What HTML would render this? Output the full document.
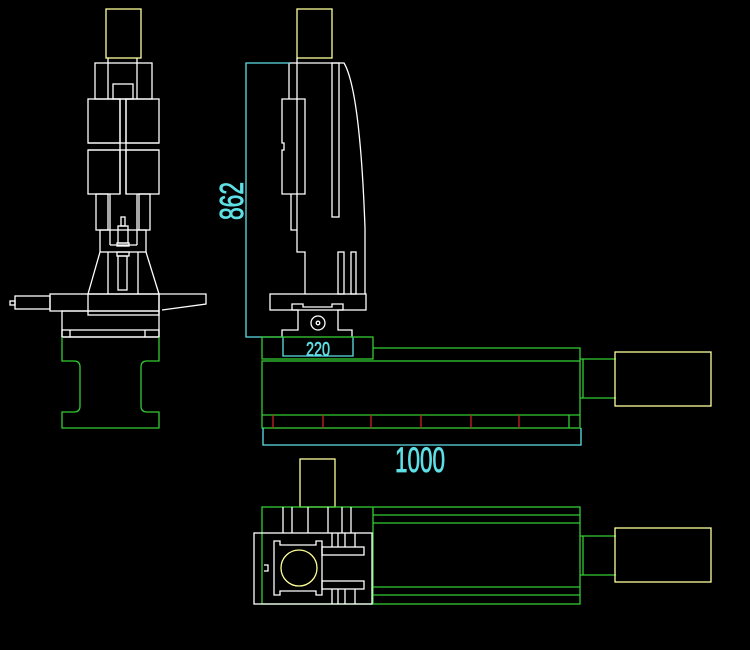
<!DOCTYPE html>
<html><head><style>html,body{margin:0;padding:0;background:#000;}svg{display:block}</style></head>
<body>
<svg width="750" height="650" viewBox="0 0 750 650" xmlns="http://www.w3.org/2000/svg" fill="none" stroke-width="1.3">
<rect width="750" height="650" fill="#000"/>
<!-- LEFT VIEW -->
<g stroke="#fff">
<rect x="95" y="63" width="57" height="36"/>
<line x1="108" y1="58" x2="108" y2="99"/><line x1="137" y1="58" x2="137" y2="99"/>
<rect x="113" y="84" width="20" height="15"/>
<rect x="88" y="99" width="32" height="44"/><rect x="126" y="99" width="33" height="44"/>
<rect x="88" y="150" width="32" height="44"/><rect x="126" y="150" width="33" height="44"/>
<line x1="88" y1="143" x2="159" y2="143"/><line x1="88" y1="150" x2="159" y2="150"/>
<line x1="120" y1="99" x2="120" y2="194"/><line x1="126" y1="99" x2="126" y2="194"/>
<rect x="96" y="194" width="12" height="36"/><rect x="139" y="194" width="11" height="36"/>
<line x1="110" y1="194" x2="110" y2="245"/><line x1="137" y1="194" x2="137" y2="245"/><line x1="110" y1="245" x2="137" y2="245"/>
<rect x="100" y="230" width="46" height="22"/>
<rect x="121" y="217" width="4" height="9"/><rect x="118" y="226" width="10" height="17"/><rect x="117" y="243" width="12" height="3"/>
<rect x="117" y="252" width="12" height="4"/><rect x="118" y="256" width="9" height="34"/>
<line x1="108" y1="252" x2="108" y2="294"/><line x1="138" y1="252" x2="138" y2="294"/>
<line x1="100" y1="252" x2="88" y2="294"/><line x1="146" y1="252" x2="159" y2="294"/>
<rect x="50" y="294" width="109" height="17"/>
<rect x="15" y="296" width="35" height="13"/><rect x="10" y="301" width="5" height="4"/>
<polyline points="159,294 206,294 206,304 162,310"/>
<rect x="88" y="294" width="71" height="21"/>
<rect x="62" y="311" width="97" height="26"/>
<rect x="62" y="330" width="97" height="7"/>
<line x1="70" y1="330" x2="70" y2="337"/><line x1="145" y1="330" x2="145" y2="337"/>
</g>
<rect x="106" y="9" width="35" height="49" stroke="#ffff99"/>
<path d="M62,337 V361 H74 Q80,361 80,367 V406 Q80,412 74,412 H62 V428 H159 V412 H147 Q141,412 141,406 V367 Q141,361 147,361 H159 V337" stroke="#33cc33"/>
<!-- SIDE VIEW -->
<rect x="297" y="9" width="35" height="49" stroke="#ffff99"/>
<g stroke="#fff">
<path d="M289,63 H344 Q360,90 365,228 V294"/>
<line x1="289" y1="63" x2="289" y2="99"/>
<path d="M282,99 H305 V194 H282 V150 H284 V143 H282 Z"/>
<polyline points="291,194 291,230 297,230"/>
<polyline points="297,58 297,252 305,252 305,294"/>
<rect x="332" y="63" width="7" height="154"/>
<rect x="338" y="252" width="6" height="42"/><rect x="351" y="252" width="5" height="42"/>
<rect x="270" y="294" width="96" height="16"/>
<path d="M282,337 V330 H298 V310 H292 V304 H303 V307 H332 V304 H343 V310 H338 V330 H352 V337"/>
<circle cx="318" cy="323" r="7"/><circle cx="318" cy="323" r="1.8"/>
</g>
<g stroke="#5ee0e6">
<polyline points="290,63 246,63 246,337 283,337"/>
<polyline points="283,337 283,356 353,356 353,337"/>
</g>
<text x="318" y="356" fill="#5ee0e6" stroke="#5ee0e6" stroke-width="0.6" font-family="Liberation Sans Narrow, Liberation Sans, sans-serif" font-size="20" text-anchor="middle" textLength="24" lengthAdjust="spacingAndGlyphs">220</text>
<text transform="translate(243,201) rotate(-90)" fill="#5ee0e6" stroke="#5ee0e6" stroke-width="0.8" font-family="Liberation Sans Narrow, Liberation Sans, sans-serif" font-size="33" text-anchor="middle" textLength="38" lengthAdjust="spacingAndGlyphs">862</text>
<!-- RAIL -->
<g stroke="#33cc33">
<rect x="262" y="337" width="111" height="22"/>
<polyline points="373,348 580,348 580,361"/>
<rect x="262" y="361" width="318" height="67"/>
<line x1="262" y1="415" x2="580" y2="415"/>
<line x1="569" y1="415" x2="569" y2="428"/>
<line x1="583" y1="359" x2="583" y2="398"/>
<polyline points="580,359 616,359"/><polyline points="580,398 616,398"/>
</g>
<g stroke="#cc2222">
<line x1="273" y1="415" x2="273" y2="428"/><line x1="323" y1="415" x2="323" y2="428"/>
<line x1="371" y1="415" x2="371" y2="428"/><line x1="421" y1="415" x2="421" y2="428"/>
<line x1="471" y1="415" x2="471" y2="428"/><line x1="519" y1="415" x2="519" y2="428"/>
</g>
<rect x="615" y="352" width="96" height="54" stroke="#ffff99"/>
<g stroke="#5ee0e6">
<polyline points="263,428 263,445 581,445 581,428"/>
</g>
<text x="420" y="472" fill="#5ee0e6" stroke="#5ee0e6" stroke-width="0.8" font-family="Liberation Sans Narrow, Liberation Sans, sans-serif" font-size="35" text-anchor="middle" textLength="50" lengthAdjust="spacingAndGlyphs">1000</text>
<!-- TOP VIEW -->
<rect x="300" y="459" width="35" height="48" stroke="#ffff99"/>
<g stroke="#33cc33">
<rect x="262" y="507" width="318" height="97"/>
<line x1="373" y1="507" x2="373" y2="604"/>
<line x1="373" y1="515" x2="580" y2="515"/><line x1="373" y1="523" x2="580" y2="523"/>
<line x1="373" y1="587" x2="580" y2="587"/><line x1="373" y1="595" x2="580" y2="595"/>
<line x1="583" y1="536" x2="583" y2="575"/>
<polyline points="580,536 616,536"/><polyline points="580,575 616,575"/>
</g>
<rect x="615" y="528" width="96" height="54" stroke="#ffff99"/>
<g stroke="#fff">
<line x1="283" y1="507" x2="283" y2="533"/><line x1="292" y1="507" x2="292" y2="533"/>
<line x1="308" y1="507" x2="308" y2="533"/><line x1="328" y1="507" x2="328" y2="533"/>
<line x1="342" y1="507" x2="342" y2="533"/><line x1="351" y1="507" x2="351" y2="533"/>
<rect x="254" y="533" width="118" height="71"/>
<path d="M264,565 H268 V571 H264"/>
<path d="M274,541 H280 V545 H316 V541 H322 V595 H316 V591 H280 V595 H274 Z"/>
<rect x="322" y="547" width="42" height="8"/><rect x="322" y="581" width="42" height="8"/>
<line x1="332" y1="533" x2="332" y2="547"/><line x1="338" y1="533" x2="338" y2="547"/>
<line x1="345" y1="533" x2="345" y2="547"/><line x1="355" y1="533" x2="355" y2="547"/>
<line x1="332" y1="589" x2="332" y2="604"/><line x1="338" y1="589" x2="338" y2="604"/>
<line x1="345" y1="589" x2="345" y2="604"/><line x1="355" y1="589" x2="355" y2="604"/>
</g>
<circle cx="299" cy="568" r="18" stroke="#ffff99"/>
</svg>
</body></html>
